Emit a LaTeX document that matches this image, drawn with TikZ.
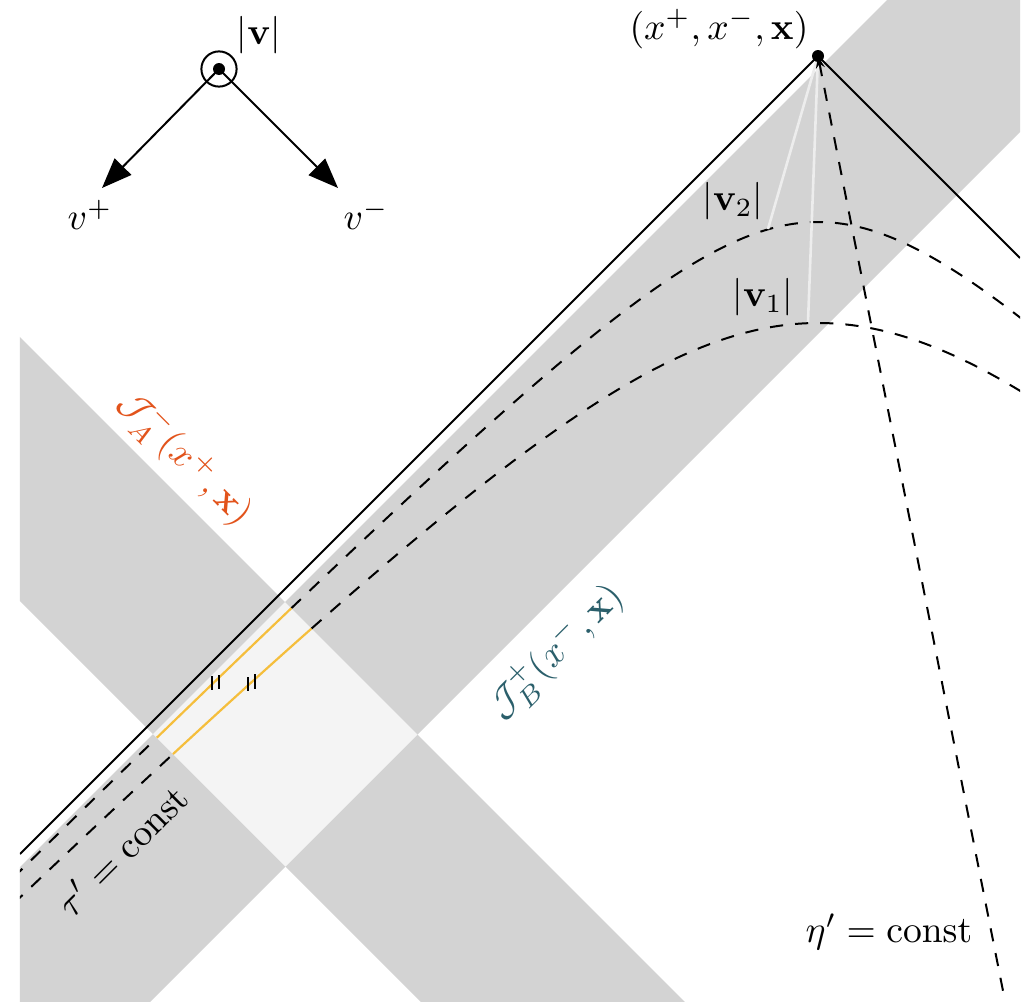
\documentclass[tikz,border=0pt]{standalone}
\usepackage{amsmath}
\usetikzlibrary{arrows.meta}
\definecolor{bandgray}{HTML}{D3D3D3}
\definecolor{lightsq}{HTML}{F4F4F4}
\definecolor{orangeline}{HTML}{F5BE3C}
\definecolor{jacol}{HTML}{E2531B}
\definecolor{jbcol}{HTML}{2B5F6B}
\begin{document}
\begin{tikzpicture}[x=25pt,y=-25pt, line width=0.5pt,
  lbl/.style={inner sep=1pt, scale=0.94},
  hyp/.style={dash pattern=on 3.3pt off 3pt},
  orseg/.style={draw=orangeline, line width=0.55pt},
  whiteray/.style={draw=white!93!black, line width=0.65pt},
  tick/.style={line width=0.6pt}]
\useasboundingbox (0,0) rectangle (10.28,10.06);
\coordinate (P) at (8.18,0.56);
\coordinate (lc) at (0.2,8.54);
\coordinate (rc) at (10.2,2.58);
\coordinate (etaend) at (10.05,10.01);
\coordinate (w2) at (7.68,2.29);
\coordinate (w1) at (8.08,3.22);
\begin{scope}
\clip (0.2,0) rectangle (10.2,10.01);
% bands
\fill[bandgray] (-3,11.87) -- (11.87,-3) -- (14.52,-3) -- (-3,14.52) -- cycle;
\fill[bandgray] (-3,0.17) -- (12,15.17) -- (12,17.81) -- (-3,2.81) -- cycle;
\fill[lightsq] (2.85,6.02) -- (1.53,7.34) -- (2.855,8.665) -- (4.175,7.345) -- cycle;
% light cone
\draw (P) -- (lc);
\draw (P) -- (rc);
% hyperbolas tau' = const
\draw[hyp] plot[domain=-8.05:-6.612, samples=30, smooth] ({8.18+\x},{0.56+sqrt(2.7556+\x*\x)});
\draw[hyp] plot[domain=-5.267:2.05, samples=80, smooth] ({8.18+\x},{0.56+sqrt(2.7556+\x*\x)});
\draw[orseg] plot[domain=-6.612:-5.267, samples=20, smooth] ({8.18+\x},{0.56+sqrt(2.7556+\x*\x)});
\draw[hyp] plot[domain=-8.05:-6.45, samples=30, smooth] ({8.18+\x},{0.56+sqrt(7.1289+\x*\x)});
\draw[hyp] plot[domain=-5.065:2.05, samples=80, smooth] ({8.18+\x},{0.56+sqrt(7.1289+\x*\x)});
\draw[orseg] plot[domain=-6.45:-5.065, samples=20, smooth] ({8.18+\x},{0.56+sqrt(7.1289+\x*\x)});
% white rays
\draw[whiteray] (P) -- (w2);
\draw[whiteray] (P) -- (w1);
% eta' = const
\draw[hyp, {Stealth[length=3pt,width=2.2pt]}-] (P) -- (etaend);
% equal-length ticks
\draw[tick] (2.12,6.76) -- (2.12,6.90);
\draw[tick] (2.19,6.75) -- (2.19,6.89);
\draw[tick] (2.48,6.77) -- (2.48,6.91);
\draw[tick] (2.55,6.74) -- (2.55,6.89);
\end{scope}
\fill (P) circle (1.5pt);
% velocity legend
\node[circle, draw, minimum size=8.8pt, inner sep=0pt] (vc) at (2.19,0.69) {};
\fill (vc.center) circle (1.5pt);
\coordinate (vp) at (1.02,1.88);
\coordinate (vm) at (3.38,1.88);
\draw[-{Triangle[length=7.5pt,width=5.8pt]}] (vc.center) -- (vp);
\draw[-{Triangle[length=7.5pt,width=5.8pt]}] (vc.center) -- (vm);
\node[lbl] (vabs) at (2.59,0.35) {$|\mathbf{v}|$};
\node[lbl] (vplus) at (0.90,2.15) {$v^+$};
\node[lbl] (vminus) at (3.66,2.15) {$v^-$};
% labels
\node[lbl] (pt) at (7.19,0.29) {$(x^+,x^-,\mathbf{x})$};
\node[lbl] (v2) at (7.33,2.01) {$|\mathbf{v}_2|$};
\node[lbl] (v1) at (7.63,2.97) {$|\mathbf{v}_1|$};
\node[lbl, text=jacol, rotate=-45] (JA) at (1.85,4.58) {$\mathcal{J}^-_A(x^+,\mathbf{x})$};
\node[lbl, text=jbcol, rotate=45] (JB) at (5.56,6.52) {$\mathcal{J}^+_B(x^-,\mathbf{x})$};
\node[lbl, rotate=45] (tau) at (1.22,8.50) {$\tau' = \mathrm{const}$};
\node[lbl] (eta) at (8.89,9.32) {$\eta' = \mathrm{const}$};
\end{tikzpicture}
\end{document}
